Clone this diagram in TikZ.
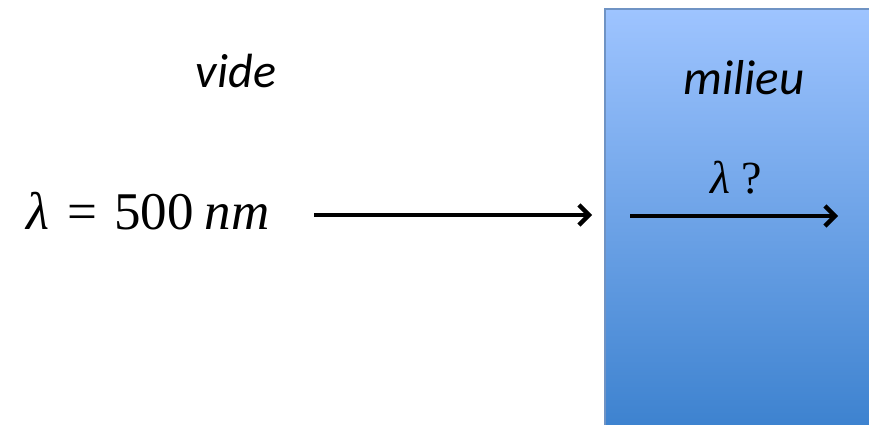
\documentclass[tikz,border=0pt]{standalone}
\usepackage{fontspec}
\setmainfont{Carlito}
\newfontfamily\mathserif{Liberation Serif}
\usetikzlibrary{arrows.meta}
\definecolor{boxtop}{HTML}{9EC4FF}
\definecolor{boxbot}{HTML}{3D82CF}
\definecolor{boxedge}{HTML}{6F93C4}
\tikzset{
  ray/.style={line width=4.4pt, -{Straight Barb[length=10pt,width=20pt,line width=4.4pt]}},
  lbl/.style={inner sep=0pt, anchor=base},
}
\begin{document}
\begin{tikzpicture}[x=1pt,y=-1pt]
\useasboundingbox (0,0) rectangle (869,425);
% medium block
\shade[top color=boxtop, bottom color=boxbot] (605,9) rectangle (872,428);
\draw[boxedge, line width=1.2pt] (605,428) -- (605,9) -- (872,9);
% labels
\node[lbl] (vide) at (236,88) {\fontsize{48}{50}\selectfont\itshape vide};
\node[lbl] (milieu) at (744,95) {\fontsize{49}{52}\selectfont\itshape milieu};
\node[lbl] (lam) at (148,229) {\fontsize{53}{56}\selectfont\mathserif{\itshape λ}\hspace{0.33em}=\hspace{0.33em}500\hspace{0.2em}{\itshape nm}};
\node[lbl] (lamq) at (736,193) {\fontsize{46}{48}\selectfont\mathserif{\itshape λ}\hspace{0.25em}?};
% rays
\coordinate (r1s) at (314,215);
\coordinate (r1e) at (592,215);
\coordinate (r2s) at (630,216);
\coordinate (r2e) at (838,216);
\draw[ray] (r1s) -- (r1e);
\draw[ray] (r2s) -- (r2e);
\end{tikzpicture}
\end{document}
